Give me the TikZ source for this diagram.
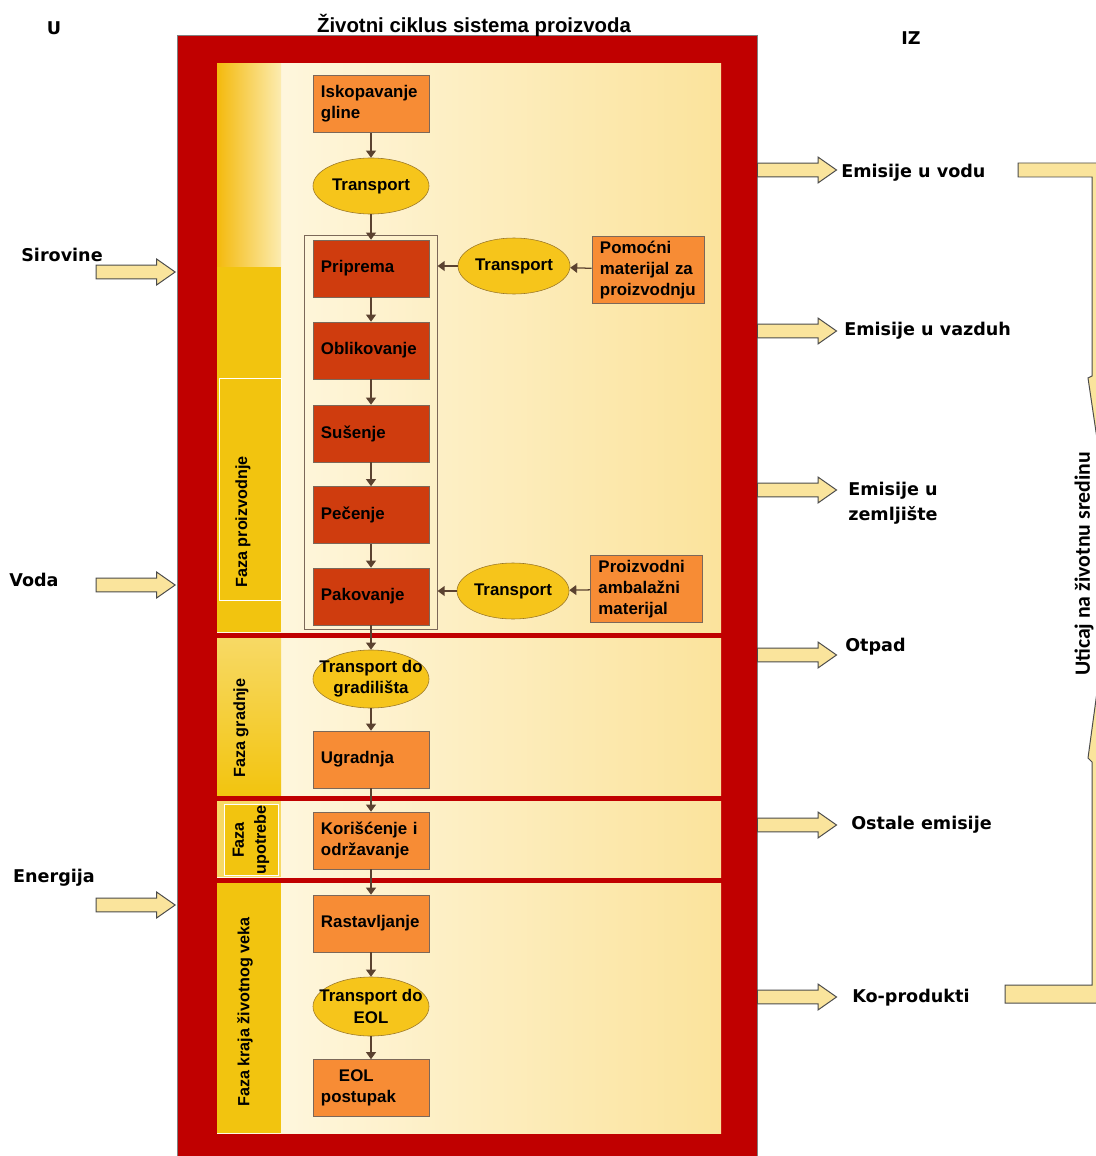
\documentclass[tikz,border=0pt]{standalone}
\usepackage{fontspec}
\setmainfont{Liberation Sans}
\newfontfamily\lblfont{DejaVu Sans}
\newfontfamily\sidefont{Carlito}
\usetikzlibrary{shapes.geometric,shapes.arrows,arrows.meta,fit,positioning}

\definecolor{frame}{HTML}{C00000}
\definecolor{panelL}{HTML}{FFF9E6}
\definecolor{panelR}{HTML}{FBE39C}
\definecolor{stripe}{HTML}{F2C40F}
\definecolor{boxor}{HTML}{F78C35}
\definecolor{boxrd}{HTML}{CF3C0E}
\definecolor{ovalfill}{HTML}{F6C51B}
\definecolor{flowc}{HTML}{5B4230}
\definecolor{arrfill}{HTML}{FAE49C}

\tikzset{
  procbox/.style={draw=flowc!80, fill=boxor, minimum width=2.9cm, minimum height=1.425cm,
    text width=2.5cm, align=left, inner xsep=0.2cm,
    font=\bfseries\fontsize{12}{15}\selectfont},
  darkbox/.style={procbox, fill=boxrd},
  transp/.style={ellipse, draw=flowc!60!ovalfill, fill=ovalfill, inner sep=-10pt,
    minimum width=2.9cm, minimum height=1.4cm, align=center,
    font=\bfseries\fontsize{12}{15}\selectfont},
  grpbox/.style={draw=flowc!80, inner xsep=0.2cm, inner ysep=0.1cm},
  flow/.style={draw=flowc, line width=0.9pt, -{Triangle[length=5pt,width=7pt]}},
  blockarr/.style={single arrow, draw=black!70, fill=arrfill, line width=0.7pt,
    minimum height=1.975cm, minimum width=0pt, inner xsep=0pt, inner ysep=0.16cm,
    single arrow head extend=0.15cm, single arrow tip angle=70},
  outlbl/.style={font=\lblfont\bfseries\fontsize{12.5}{18}\selectfont, align=left, inner sep=0pt},
  phaselbl/.style={rotate=90, font=\bfseries\fontsize{11.5}{15.5}\selectfont, align=center},
  panel/.style={left color=panelL, right color=panelR}
}

\begin{document}
\begin{tikzpicture}[x=0.025cm, y=-0.025cm]

  \useasboundingbox[fill=white] (0,0) rectangle (1096,1156);

  % Frame and title
  \draw[fill=frame, draw=black!50] (177,35) rectangle (757,1160);
  \node[font=\bfseries\fontsize{14.5}{16}\selectfont] (title) at (474,25) {Životni ciklus sistema proizvoda};
  \node[outlbl] (ulaz) at (54,28) {U};
  \node[outlbl] (izlaz) at (911,38) {IZ};

  % Phase panels
  \fill[panel] (217,64) rectangle (721,632);
  \fill[panel] (217,638) rectangle (721,795);
  \fill[panel] (217,801) rectangle (721,877);
  \fill[panel] (217,883) rectangle (721,1133);

  % Phase stripes
  \fill[left color=stripe!85!orange, middle color=stripe, right color=stripe!25!panelL] (217,64) rectangle (281,267);
  \fill[stripe] (217,267) rectangle (281,632);
  \draw[fill=stripe, draw=white] (219,378) rectangle (281,600);
  \fill[top color=stripe!60!panelL, bottom color=stripe] (217,638) rectangle (281,795);
  \fill[stripe!60!panelL] (217,801) rectangle (281,877);
  \draw[fill=stripe, draw=white] (224,804) rectangle (278,875);
  \fill[stripe] (217,883) rectangle (281,1133);

  \node[phaselbl] (fProiz) at (243,522) {Faza proizvodnje};
  \node[phaselbl] (fGrad) at (241,728) {Faza gradnje};
  \node[phaselbl] (fUpot) at (251,840) {Faza\\upotrebe};
  \node[phaselbl] (fKraj) at (245,1012) {Faza kraja životnog veka};

  % Production phase
  \node[procbox] (isk) at (371,104) {Iskopavanje\\gline};
  \node[transp] (trT) at (371,186) {Transport};
  \node[darkbox] (prip) at (371,268.5) {Priprema};
  \node[darkbox] (oblik) at (371,350.5) {Oblikovanje};
  \node[darkbox] (sus) at (371,433.5) {Sušenje};
  \node[darkbox] (pec) at (371,515) {Pečenje};
  \node[darkbox] (pak) at (371,596.5) {Pakovanje};
  \node[grpbox, fit=(prip)(pak)] (grp) {};

  \node[transp, minimum width=2.8cm] (trA) at (514,266) {Transport};
  \node[procbox, minimum width=2.8cm, minimum height=1.65cm, text width=2.4cm] (pom) at (648,270) {Pomoćni\\materijal za\\proizvodnju};
  \node[transp, minimum width=2.8cm] (trB) at (513,591) {Transport};
  \node[procbox, minimum width=2.8cm, minimum height=1.65cm, text width=2.4cm] (amb) at (646.5,589) {Proizvodni\\ambalažni\\materijal};

  % Construction, use and end of life
  \node[transp, minimum height=1.45cm] (trG) at (371,679) {Transport do\\gradilišta};
  \node[procbox] (ugr) at (371,759.5) {Ugradnja};
  \node[procbox] (kor) at (371,840.5) {Korišćenje i\\održavanje};
  \node[procbox] (ras) at (371,923.5) {Rastavljanje};
  \node[transp, minimum height=1.475cm] (trE) at (371,1006.5) {Transport do\\EOL};
  \node[procbox] (eol) at (371,1088) {\hspace*{0.45cm}EOL\\postupak};

  \foreach \a/\b in {isk/trT, trT/prip, prip/oblik, oblik/sus, sus/pec, pec/pak,
                     pak/trG, trG/ugr, ugr/kor, kor/ras, ras/trE, trE/eol}
    \draw[flow] (\a) -- (\b);
  \draw[flow] (pom) -- (trA);
  \draw[flow] (trA) -- (trA -| grp.east);
  \draw[flow] (amb) -- (trB);
  \draw[flow] (trB) -- (trB -| grp.east);

  % Inputs
  \node[outlbl] (sir) at (62,255) {Sirovine};
  \node[outlbl] (voda) at (34,580) {Voda};
  \node[outlbl] (ener) at (54,878) {Energija};
  \node[blockarr, anchor=tip] (aSir) at (176,272) {};
  \node[blockarr, anchor=tip] (aVoda) at (176,585) {};
  \node[blockarr, anchor=tip] (aEner) at (176,905) {};

  % Outputs
  \foreach \n/\y in {aVodu/170, aVaz/331, aZem/490, aOtp/655, aOst/825, aKop/997}
    \node[blockarr, anchor=tail] (\n) at (757,\y) {};
  \node[outlbl, anchor=west] (eVodu) at (841,173) {Emisije u vodu};
  \node[outlbl, anchor=west] (eVaz) at (844,331) {Emisije u vazduh};
  \node[outlbl, anchor=west] (eZem) at (848,503) {Emisije u\\zemljište};
  \node[outlbl, anchor=west] (otp) at (845,647) {Otpad};
  \node[outlbl, anchor=west] (ost) at (851,825) {Ostale emisije};
  \node[outlbl, anchor=west] (kop) at (852,998) {Ko-produkti};

  % Impact bracket
  \draw[draw=black!70, fill=arrfill, line width=0.7pt] (1018,163) -- (1120,163) -- (1120,1003)
    -- (1005,1003) -- (1005,985) -- (1092,985) -- (1092,762) -- (1088,758) -- (1115,560)
    -- (1088,378) -- (1092,376) -- (1092,177) -- (1018,177) -- cycle;
  \node[rotate=90, font=\sidefont\bfseries\fontsize{15.5}{17}\selectfont] (uticaj) at (1084,564) {Uticaj na životnu sredinu};

\end{tikzpicture}
\end{document}
